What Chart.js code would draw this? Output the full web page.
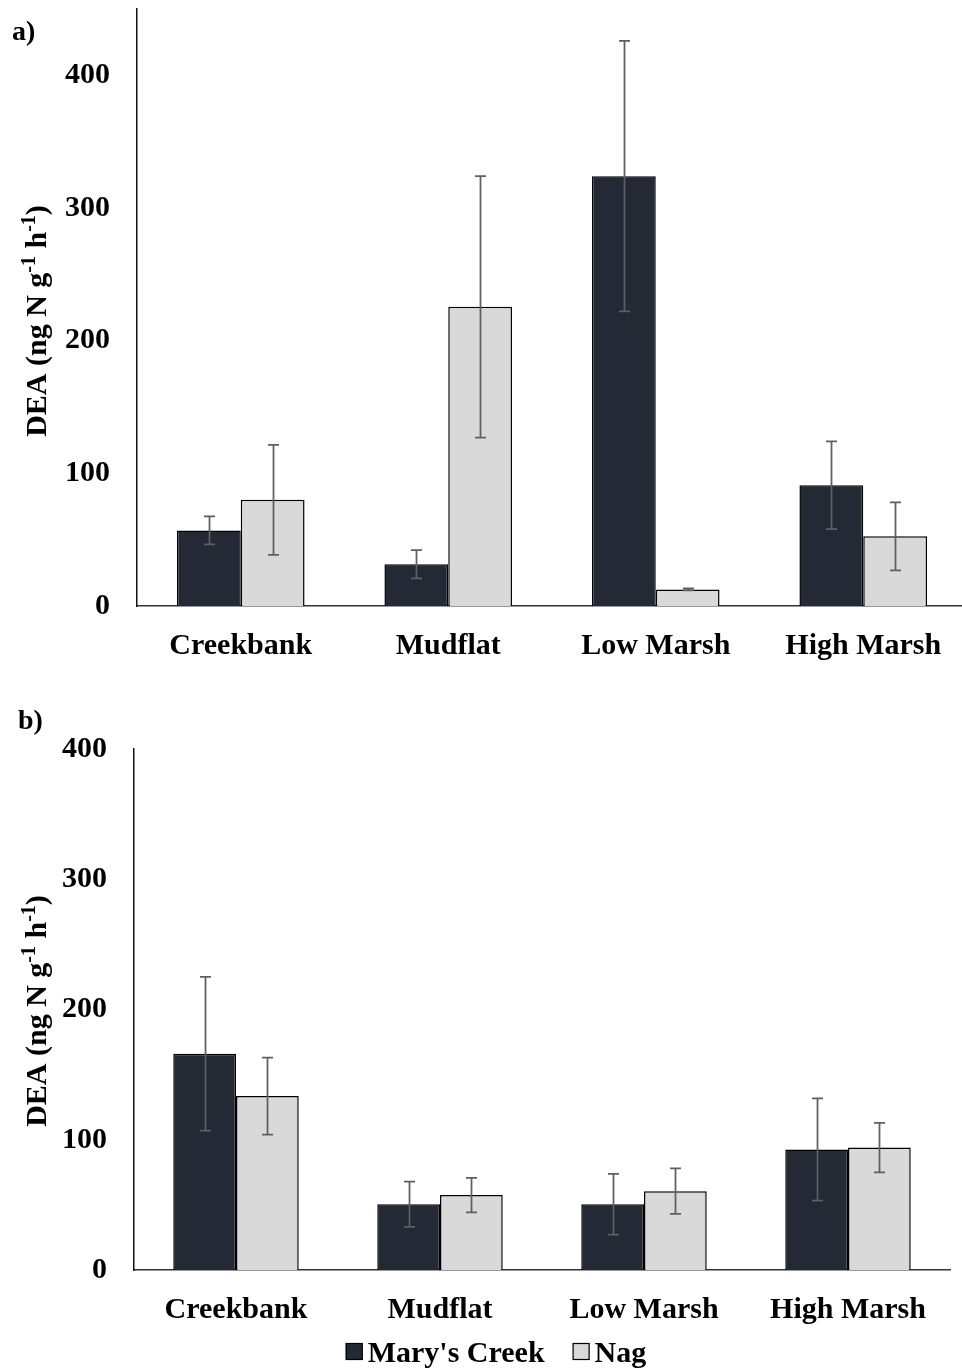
<!DOCTYPE html>
<html>
<head>
<meta charset="utf-8">
<title>DEA by habitat zone</title>
<script src="https://cdn.jsdelivr.net/npm/chart.js@4.4.1/dist/chart.umd.min.js"></script>
<style>
  html, body { margin: 0; padding: 0; background: #fff; overflow: hidden; }
  #page { position: relative; width: 962px; height: 1372px; overflow: hidden; background: #fff; }
  #page canvas { position: absolute; left: 0; }
</style>
</head>
<body>
<div id="page">
  <canvas id="panelA" width="972" height="690" style="top:0px"></canvas>
  <canvas id="panelB" width="962" height="682" style="top:690px"></canvas>
</div>
<script>
// ---- data ----
const categories = ['Creekbank', 'Mudflat', 'Low Marsh', 'High Marsh'];
const seriesNames = ["Mary's Creek", 'Nag'];

// panel a)
const marysA    = [57, 31.5, 324, 91];
const marysAErr = [10.5, 10.7, 102, 33];
const nagA      = [80, 225.5, 12.5, 52.5];
const nagAErr   = [41.5, 98.5, 0.8, 25.7];

// panel b)
const marysB    = [166, 50.5, 50.5, 92.5];
const marysBErr = [59, 17.4, 23.3, 39.3];
const nagB      = [133.5, 57.5, 60.5, 94];
const nagBErr   = [29.6, 13.2, 17.5, 19];

const tickValuesA = [0, 100, 200, 300, 400];
const tickValuesB = [0, 100, 200, 300, 400];

const yTitleParts = [
  ['DEA (ng N g', false],
  ['-1', true],
  [' h', false],
  ['-1', true],
  [')', false]
];

// ---- styling ----
const SERIF = '"Liberation Serif", "Times New Roman", Times, serif';
const DARK = '#232a35';
const LIGHT = '#d9d9d9';
const tickFont = { family: SERIF, size: 30, weight: 'bold' };

// Error bars drawn at each bar's own pixel position
const errorBarPlugin = {
  id: 'errorBars',
  afterDatasetsDraw(chart) {
    const ctx = chart.ctx;
    const yScale = chart.scales.y;
    ctx.save();
    ctx.strokeStyle = '#5f5f5f';
    ctx.lineWidth = 1.75;
    chart.data.datasets.forEach((ds, i) => {
      const meta = chart.getDatasetMeta(i);
      meta.data.forEach((bar, j) => {
        const v = ds.data[j], e = ds.errors[j];
        const yt = yScale.getPixelForValue(v + e);
        const yb = yScale.getPixelForValue(v - e);
        const x = Math.round(bar.x) + 0.5;
        const half = 5.5;
        ctx.beginPath();
        ctx.moveTo(x, yt); ctx.lineTo(x, yb);
        ctx.moveTo(x - half, yt); ctx.lineTo(x + half, yt);
        ctx.moveTo(x - half, yb); ctx.lineTo(x + half, yb);
        ctx.stroke();
      });
    });
    ctx.restore();
  }
};

// Rotated y-axis title with superscript exponents
const yTitlePlugin = {
  id: 'yTitle',
  afterDraw(chart, args, o) {
    const ctx = chart.ctx;
    const main = 'bold 30px ' + SERIF;
    const sup = 'bold 20px ' + SERIF;
    ctx.save();
    let total = 0;
    const widths = yTitleParts.map(([t, s]) => {
      ctx.font = s ? sup : main;
      const w = ctx.measureText(t).width;
      total += w;
      return w;
    });
    ctx.translate(o.x, o.y);
    ctx.rotate(-Math.PI / 2);
    ctx.fillStyle = '#000';
    ctx.textBaseline = 'alphabetic';
    ctx.textAlign = 'left';
    let x = -total / 2;
    yTitleParts.forEach(([t, s], k) => {
      ctx.font = s ? sup : main;
      ctx.fillText(t, x, s ? -11 : 0);
      x += widths[k];
    });
    ctx.restore();
  }
};

// Panel letter in the corner
const panelTagPlugin = {
  id: 'panelTag',
  afterDraw(chart, args, o) {
    const ctx = chart.ctx;
    ctx.save();
    ctx.font = 'bold 28px ' + SERIF;
    ctx.fillStyle = '#000';
    ctx.textBaseline = 'alphabetic';
    ctx.textAlign = 'left';
    ctx.fillText(o.text, o.x, o.y);
    ctx.restore();
  }
};

// Legend with tight box/text spacing
const boxLegendPlugin = {
  id: 'boxLegend',
  afterDraw(chart, args, o) {
    if (!o.show) return;
    const ctx = chart.ctx;
    ctx.save();
    ctx.font = 'bold 30px ' + SERIF;
    const items = chart.data.datasets.map(d => ({
      text: d.label, fill: d.backgroundColor, w: ctx.measureText(d.label).width
    }));
    const total = items.reduce((s, it) => s + o.box + o.gap + it.w, 0) + o.itemGap * (items.length - 1);
    let x = o.centerX - total / 2;
    items.forEach(it => {
      ctx.fillStyle = it.fill;
      ctx.fillRect(x, o.boxTop, o.box, o.box);
      ctx.strokeStyle = '#000';
      ctx.lineWidth = 1.2;
      ctx.strokeRect(x + 0.5, o.boxTop + 0.5, o.box - 1, o.box - 1);
      ctx.fillStyle = '#000';
      ctx.textBaseline = 'alphabetic';
      ctx.textAlign = 'left';
      ctx.fillText(it.text, x + o.box + o.gap, o.baseline);
      x += o.box + o.gap + it.w + o.itemGap;
    });
    ctx.restore();
  }
};

function makePanel(canvasId, p) {
  const barStyle = { borderColor: '#000', borderWidth: 1.5, categoryPercentage: 0.615, barPercentage: 1.0 };
  return new Chart(document.getElementById(canvasId), {
    type: 'bar',
    data: {
      labels: categories,
      datasets: [
        Object.assign({ label: seriesNames[0], data: p.marys, errors: p.marysErr, backgroundColor: DARK }, barStyle),
        Object.assign({ label: seriesNames[1], data: p.nag, errors: p.nagErr, backgroundColor: LIGHT }, barStyle)
      ]
    },
    options: {
      responsive: false,
      animation: false,
      events: [],
      layout: { padding: p.padding },
      plugins: {
        legend: { display: false },
        tooltip: { enabled: false },
        yTitle: { x: 46, y: 321 },
        panelTag: p.tag,
        boxLegend: p.legend
      },
      scales: {
        x: {
          grid: { display: false, drawTicks: false },
          border: { display: true, color: '#333', width: 1.5 },
          ticks: { color: '#000', font: tickFont, padding: 22, maxRotation: 0, autoSkip: false },
          afterFit(s) { s.height = p.xHeight; }
        },
        y: {
          min: 0,
          max: p.yMax,
          grid: { display: false, drawTicks: false },
          border: { display: true, color: '#111', width: 1.5 },
          ticks: { color: '#000', font: tickFont, padding: 27 },
          afterBuildTicks(s) { s.ticks = p.ticks.map(v => ({ value: v })); },
          afterFit(s) {
            s.width = p.yWidth;
            // plot edges are set by layout.padding alone
            s.paddingTop = 0;
            s.paddingBottom = 0;
          }
        }
      }
    },
    plugins: [errorBarPlugin, yTitlePlugin, panelTagPlugin, boxLegendPlugin]
  });
}

makePanel('panelA', {
  marys: marysA, marysErr: marysAErr, nag: nagA, nagErr: nagAErr,
  yMax: 450, ticks: tickValuesA,
  padding: { top: 9, right: 5, left: 0, bottom: 0 },
  xHeight: 84, yWidth: 137,
  tag: { text: 'a)', x: 12, y: 40 },
  legend: { show: false }
});

makePanel('panelB', {
  marys: marysB, marysErr: marysBErr, nag: nagB, nagErr: nagBErr,
  yMax: 400, ticks: tickValuesB,
  padding: { top: 59, right: 12, left: 0, bottom: 0 },
  xHeight: 102, yWidth: 134,
  tag: { text: 'b)', x: 18, y: 39 },
  legend: { show: true, centerX: 496, boxTop: 653, box: 17, gap: 5, itemGap: 28, baseline: 672 }
});
</script>
</body>
</html>
